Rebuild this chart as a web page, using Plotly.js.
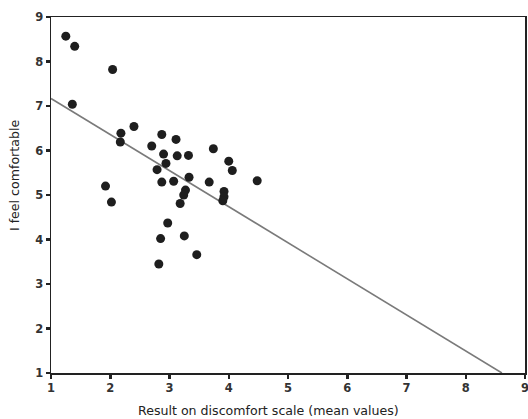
<!DOCTYPE html>
<html>
<head>
<meta charset="utf-8">
<script src="https://cdn.plot.ly/plotly-3.0.1.min.js"></script>
<style>html,body{margin:0;padding:0;background:#fff;}#chart{width:528px;height:419px;}</style>
</head>
<body>
<div id="chart"></div>
<script>
// Discomfort scale (mean values) per respondent
const discomfort = [1.25, 1.40, 2.04, 1.36, 2.18, 2.17, 2.40, 2.87, 2.70, 3.11,
  2.90, 3.13, 3.32, 2.94, 2.79, 3.33, 2.87, 3.07, 1.92, 3.27,
  3.24, 3.18, 2.02, 3.74, 4.00, 4.06, 3.67, 4.48, 3.92, 3.92,
  3.90, 2.97, 2.85, 3.25, 3.46, 2.82];
// "I feel comfortable" rating per respondent
const comfortable = [8.57, 8.34, 7.82, 7.04, 6.39, 6.19, 6.54, 6.36, 6.10, 6.25,
  5.92, 5.88, 5.89, 5.71, 5.57, 5.40, 5.29, 5.31, 5.20, 5.11,
  5.00, 4.81, 4.84, 6.04, 5.76, 5.55, 5.29, 5.32, 5.08, 4.96,
  4.87, 4.37, 4.02, 4.08, 3.66, 3.45];
// Fitted regression line end points
const fitX = [1, 8.61];
const fitY = [7.17, 1];
const tickVals = [1, 2, 3, 4, 5, 6, 7, 8, 9];
const xTitle = 'Result on discomfort scale (mean values)';
const yTitle = 'I feel comfortable';

const font = 'DejaVu Sans, Verdana, sans-serif';
const axisBase = {
  range: [1, 9], showgrid: false, zeroline: false,
  showline: true, linecolor: '#222', linewidth: 1.5, mirror: true,
  ticks: 'outside', ticklen: 4, tickwidth: 2.5, tickcolor: '#222',
  tickvals: tickVals, ticktext: tickVals.map(String),
  ticklabeloverflow: 'allow',
  tickfont: {family: font, size: 11.5, color: '#333', weight: 'bold'},
  fixedrange: true
};

const data = [
  {x: fitX, y: fitY, type: 'scatter', mode: 'lines',
   line: {color: '#7a7a7a', width: 1.6}, hoverinfo: 'skip', showlegend: false},
  {x: discomfort, y: comfortable, type: 'scatter', mode: 'markers',
   marker: {color: '#1e1e1e', size: 9}, showlegend: false}
];

const layout = {
  width: 528, height: 419,
  margin: {l: 51, r: 3, t: 17, b: 46},
  paper_bgcolor: '#fff', plot_bgcolor: '#fff',
  xaxis: Object.assign({}, axisBase),
  yaxis: Object.assign({}, axisBase),
  annotations: [
    {text: xTitle, xref: 'paper', yref: 'paper', x: 0.458, y: -0.104,
     xanchor: 'center', yanchor: 'middle', showarrow: false,
     font: {family: font, size: 12.6, color: '#222'}},
    {text: yTitle, xref: 'paper', yref: 'paper', x: -0.078, y: 0.556,
     xanchor: 'center', yanchor: 'middle', showarrow: false, textangle: -90,
     font: {family: font, size: 12.6, color: '#222'}}
  ]
};

Plotly.newPlot('chart', data, layout, {displayModeBar: false, staticPlot: true});
</script>
</body>
</html>
